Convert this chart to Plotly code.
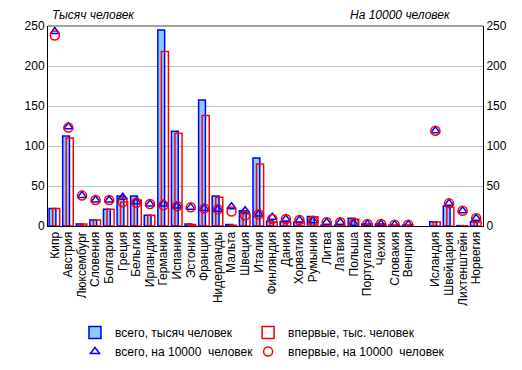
import plotly.graph_objects as go

countries = ["Кипр", "Австрия", "Люксембург", "Словения", "Болгария", "Греция", "Бельгия",
             "Ирландия", "Германия", "Испания", "Эстония", "Франция", "Нидерланды", "Мальта",
             "Швеция", "Италия", "Финляндия", "Дания", "Хорватия", "Румыния", "Литва", "Латвия",
             "Польша", "Португалия", "Чехия", "Словакия", "Венгрия",
             "Исландия", "Швейцария", "Лихтенштейн", "Норвегия"]
# position slots (gap between EU and non-EU)
slots = list(range(27)) + [28, 29, 30, 31]

total_thousand = [22, 112.5, 2.5, 7.5, 21, 37.5, 37.5, 13.3, 245, 118.3, 2.5, 157.5, 37.5, 2,
                  19, 85, 6.2, 5.4, 4.6, 12, 1, 1, 9.6, 2.5, 2.5, 1, 1,
                  5.4, 25, 0.5, 5.4]
first_thousand = [22, 110, 2.5, 7.5, 21, 30, 32.5, 13.3, 218, 116, 2, 138, 36, 1,
                  15, 77.5, 5, 5, 4, 11.5, 0.8, 0.8, 8.4, 2.3, 2.3, 0.8, 0.8,
                  5, 23.3, 0.3, 5]
total_per10k = [243, 124, 38, 32.5, 32.5, 36, 30.4, 27.5, 27.5, 25, 23.3, 22, 21, 24,
                19, 15, 11, 8.7, 7.5, 6.7, 4.6, 4.6, 3.3, 2.5, 2.5, 1.7, 1.7,
                119, 28.3, 19, 9.6]
first_per10k = [238, 123, 38, 32.5, 32.5, 29.6, 29, 27.5, 26, 24.6, 23.3, 22, 21, 18,
                13, 14.6, 8.7, 8.7, 7.5, 6.2, 4.6, 4.6, 3.3, 2.5, 2.5, 1.7, 1.7,
                119, 28.3, 19, 9.6]

FONT = "Liberation Sans, Arial, sans-serif"

fig = go.Figure()
fig.add_trace(go.Bar(
    x=slots, y=total_thousand, name="всего, тысяч человек",
    offset=-0.42, width=0.5, legend="legend",
    marker=dict(color="#87CEFA", line=dict(color="#0000FF", width=1.5)),
))
fig.add_trace(go.Bar(
    x=slots, y=first_thousand, name="впервые, тыс. человек",
    offset=-0.16, width=0.52, legend="legend2",
    marker=dict(color="rgba(255,255,255,0)", line=dict(color="#FF0000", width=1.5)),
))
fig.add_trace(go.Scatter(
    x=slots, y=total_per10k, name="всего, на 10000  человек", mode="markers",
    yaxis="y2", legend="legend",
    marker=dict(symbol="triangle-up-open", size=8, color="#0000FF", line=dict(width=1.5)),
))
fig.add_trace(go.Scatter(
    x=slots, y=first_per10k, name="впервые, на 10000  человек", mode="markers",
    yaxis="y2", legend="legend2",
    marker=dict(symbol="circle-open", size=9, color="#FF0000", line=dict(width=1.5)),
))

leg_common = dict(orientation="v", yanchor="top", y=-0.46, xanchor="left",
                  font=dict(size=12), itemwidth=30, tracegroupgap=0,
                  traceorder="normal", bgcolor="rgba(0,0,0,0)")

fig.update_layout(
    width=514, height=370,
    margin=dict(l=40, r=39, t=18, b=152, autoexpand=False),
    paper_bgcolor="white", plot_bgcolor="white",
    barmode="overlay",
    font=dict(family=FONT, size=12, color="black"),
    showlegend=True,
    legend=dict(x=0.062, **leg_common),
    legend2=dict(x=0.46, **leg_common),
    xaxis=dict(range=[-0.5, 31.5], tickmode="array", tickvals=slots, ticktext=countries,
               tickangle=-90, showgrid=False, showline=True, linecolor="black", linewidth=1,
               ticks="", tickfont=dict(size=12), zeroline=False, automargin=False),
    yaxis=dict(range=[0, 250], tickvals=[0, 50, 100, 150, 200, 250], showgrid=True,
               gridcolor="#C0C0C0", gridwidth=1, showline=True, linecolor="black", linewidth=1,
               ticks="", zeroline=False, tickfont=dict(size=12), automargin=False),
    yaxis2=dict(range=[0, 250], tickvals=[0, 50, 100, 150, 200, 250], overlaying="y",
                side="right", showgrid=False, showline=True, linecolor="black", linewidth=1,
                ticks="", zeroline=False, tickfont=dict(size=12), automargin=False),
    shapes=[dict(type="line", xref="paper", yref="paper", x0=0, x1=1, y0=1, y1=1,
                 line=dict(color="#808080", width=1.5))],
    annotations=[
        dict(text="<i>Тысяч человек</i>", xref="paper", yref="paper", x=0.0, y=1.0,
             xanchor="left", yanchor="bottom", showarrow=False, xshift=2, yshift=2,
             font=dict(size=12)),
        dict(text="<i>На 10000 человек</i>", xref="paper", yref="paper", x=0.93, y=1.0,
             xanchor="right", yanchor="bottom", showarrow=False, yshift=2,
             font=dict(size=12)),
    ],
)

fig.write_html("out.html")
